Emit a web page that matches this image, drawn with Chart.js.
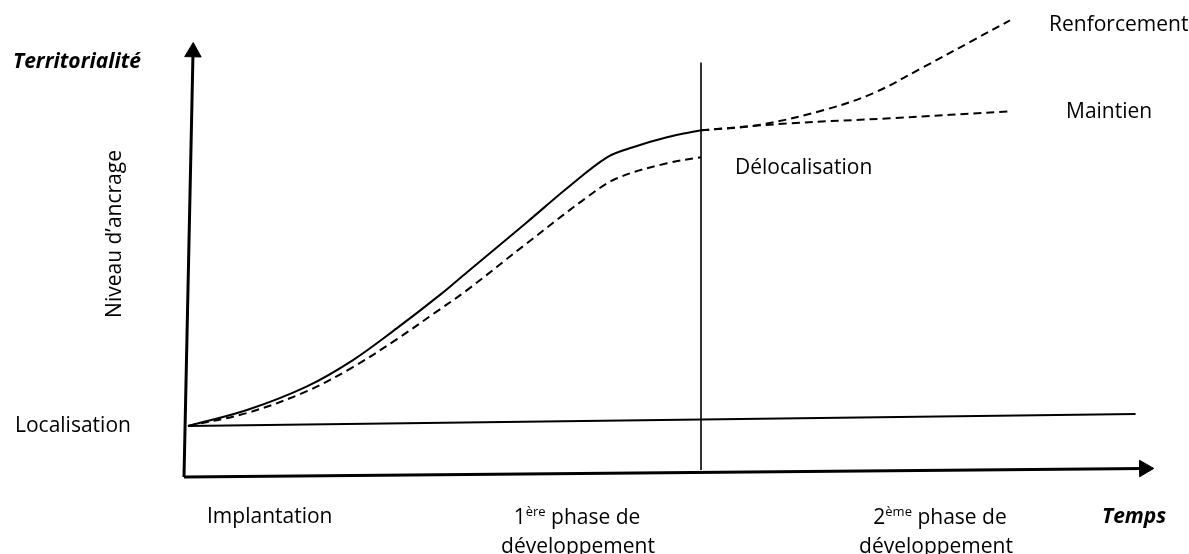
<!DOCTYPE html>
<html lang="fr">
<head>
<meta charset="utf-8">
<title>Niveau d'ancrage</title>
<script src="https://cdn.jsdelivr.net/npm/chart.js@4/dist/chart.umd.min.js"></script>
<style>
  html, body { margin: 0; padding: 0; background: #fff; }
  canvas { display: block; }
</style>
</head>
<body>
<canvas id="chart" width="1189" height="554"></canvas>
<script>
// Temps (0 = origine, 100 = flèche) / niveau d'ancrage (0 = axe des temps)
// Trajectoire principale jusqu'à la fin de la 1ère phase
const growthTime  = [0.41, 6.49, 12.68, 17.42, 21.96, 26.39, 29.18, 35.36, 39.48, 43.61, 46.29, 49.79, 53.30];
const growthLevel = [11.75, 15.44, 20.9, 26.96, 34.33, 42.0, 47.24, 58.76, 66.59, 73.73, 76.04, 78.34, 79.95];

// Délocalisation (pointillés, sous la trajectoire principale)
const delocTime  = [0.41, 6.49, 12.68, 17.42, 21.96, 26.08, 29.18, 35.36, 41.55, 44.64, 49.79, 53.30];
const delocLevel = [11.75, 14.75, 19.8, 25.35, 31.80, 38.2, 43.09, 53.92, 64.52, 68.89, 72.35, 73.73];

// 2ème phase : renforcement et maintien
const renfoTime  = [53.30, 59.07, 65.88, 71.03, 76.19, 81.34, 85.15];
const renfoLevel = [79.95, 81.11, 84.56, 88.48, 94.47, 100.69, 105.30];
const maintTime  = [53.30, 62.47, 72.78, 85.15];
const maintLevel = [79.95, 81.57, 82.72, 84.33];

// Niveau de localisation (ligne de base)
const localTime  = [0.41, 98.1];
const localLevel = [11.75, 14.5];

// Fin de la 1ère phase (trait vertical)
const phaseTime  = [53.3, 53.3];
const phaseLevel = [1.6, 95.6];

// Axes (le dernier point porte la flèche)
const yAxisTime  = [0, 0.93];
const yAxisLevel = [0, 98.0];
const xAxisTime  = [0, 99.0];
const xAxisLevel = [0, 1.96];

const pts = (xs, ys) => xs.map((x, i) => ({ x, y: ys[i] }));

// Textes du schéma
const TEXTS = [
	{ parts: [['Territorialité']], x: 13, y: 62, align: 'left', style: 'italic bold ' },
	{ parts: [['Niveau d’ancrage']], x: 115, y: 234, align: 'center', rotate: -Math.PI / 2 },
	{ parts: [['Localisation']], x: 15, y: 426, align: 'left' },
	{ parts: [['Délocalisation']], x: 735, y: 168, align: 'left' },
	{ parts: [['Renforcement']], x: 1049, y: 25, align: 'left' },
	{ parts: [['Maintien']], x: 1066, y: 112, align: 'left' },
	{ parts: [['Implantation']], x: 207, y: 517, align: 'left' },
	{ parts: [['1'], ['ère', 'sup'], [' phase de']], x: 577, y: 518, align: 'center' },
	{ parts: [['développement']], x: 578, y: 547, align: 'center' },
	{ parts: [['2'], ['ème', 'sup'], [' phase de']], x: 940, y: 518, align: 'center' },
	{ parts: [['développement']], x: 936, y: 547, align: 'center' },
	{ parts: [['Temps']], x: 1102, y: 517, align: 'left', style: 'italic bold ' }
];

const FAMILY = '"Open Sans", "DejaVu Sans", sans-serif';

const textPlugin = {
	id: 'schemaTexts',
	afterDraw(chart) {
		const ctx = chart.ctx;
		ctx.save();
		ctx.fillStyle = '#000';
		ctx.textBaseline = 'middle';
		TEXTS.forEach(t => {
			const style = t.style || '';
			const fontOf = p => p[1] === 'sup' ? `${style}13px ${FAMILY}` : `${style}21px ${FAMILY}`;
			let total = 0;
			t.parts.forEach(p => { ctx.font = fontOf(p); total += ctx.measureText(p[0]).width; });
			ctx.save();
			ctx.translate(t.x, t.y);
			if (t.rotate) ctx.rotate(t.rotate);
			let cx = t.align === 'center' ? -total / 2 : 0;
			t.parts.forEach(p => {
				ctx.font = fontOf(p);
				ctx.textAlign = 'left';
				ctx.fillText(p[0], cx, p[1] === 'sup' ? -6 : 0);
				cx += ctx.measureText(p[0]).width;
			});
			ctx.restore();
		});
		ctx.restore();
	}
};

const line = (data, width, dash, extra = {}) => Object.assign({
	data,
	showLine: true,
	borderColor: '#000',
	backgroundColor: '#000',
	borderWidth: width,
	borderDash: dash,
	pointRadius: 0,
	tension: 0.35,
	clip: false
}, extra);

const arrow = (rotation) => ({
	pointRadius: [0, 9.5],
	pointStyle: 'triangle',
	pointRotation: rotation,
	pointBackgroundColor: '#000',
	pointBorderColor: '#000',
	pointBorderWidth: 1
});

new Chart(document.getElementById('chart'), {
	type: 'scatter',
	data: {
		datasets: [
			line(pts(yAxisTime, yAxisLevel), 3, [], arrow(1.2)),
			line(pts(xAxisTime, xAxisLevel), 3, [], arrow(89.5)),
			line(pts(localTime, localLevel), 2, []),
			line(pts(phaseTime, phaseLevel), 1.6, []),
			line(pts(growthTime, growthLevel), 2, []),
			line(pts(delocTime, delocLevel), 2, [8, 5]),
			line(pts(renfoTime, renfoLevel), 2, [8, 5]),
			line(pts(maintTime, maintLevel), 2, [8, 5])
		]
	},
	options: {
		responsive: false,
		animation: false,
		events: [],
		layout: { autoPadding: false, padding: { left: 184, right: 35, top: 0, bottom: 77 } },
		scales: {
			x: { type: 'linear', min: 0, max: 100, display: false },
			y: { type: 'linear', min: 0, max: 110, display: false }
		},
		plugins: {
			legend: { display: false },
			tooltip: { enabled: false }
		}
	},
	plugins: [textPlugin]
});
</script>
</body>
</html>
